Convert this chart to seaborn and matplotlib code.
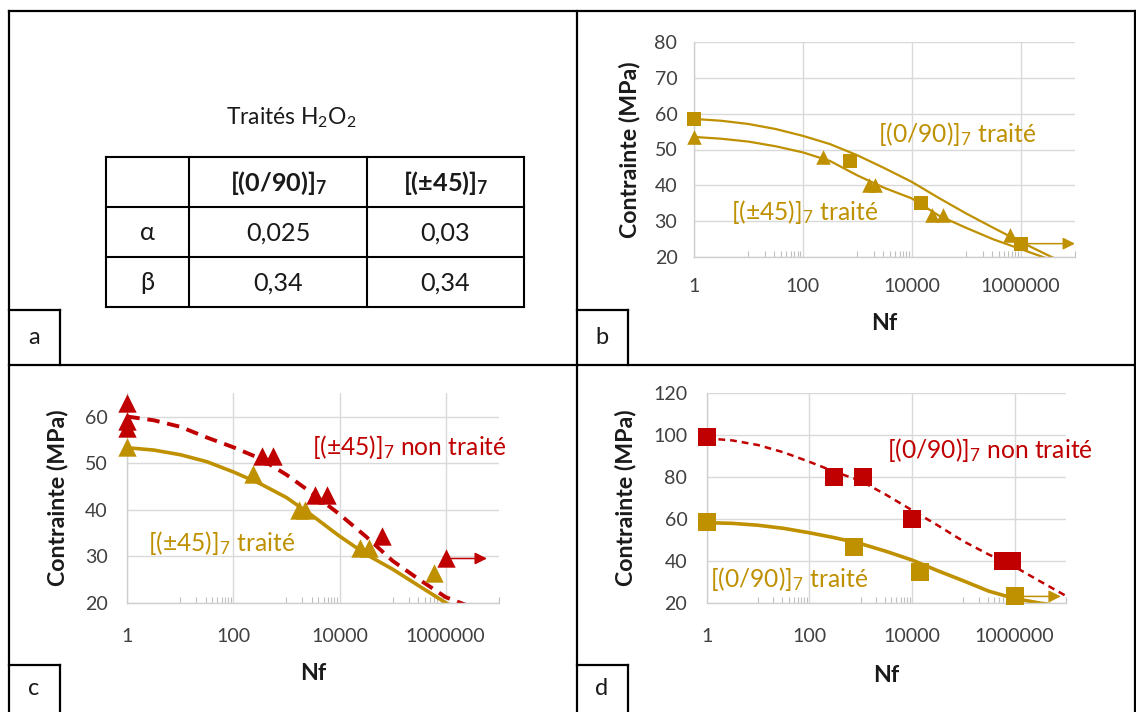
import matplotlib
matplotlib.use("Agg")
import matplotlib.pyplot as plt
from matplotlib.ticker import FixedLocator, NullFormatter
import seaborn as sns

# ---------------- data ----------------
GOLD = "#BF9000"
RED = "#C00000"

# panel a : fit parameters (treated H2O2)
layups = [r"[(0/90)]$_\mathbf{7}$", r"[(±45)]$_\mathbf{7}$"]
param_names = ["α", "β"]
alpha_vals = ["0,025", "0,03"]
beta_vals = ["0,34", "0,34"]

# fitted curves are read at half decades of Nf
n_curve = [1, 3.16, 10, 31.6, 100, 316, 1000, 3160, 1e4, 3.16e4, 1e5, 3.16e5, 1e6, 3.16e6, 1e7]

# panel b : treated [(0/90)]7 (squares) and [(±45)]7 (triangles)
b_sq_n = [1, 740, 14800, 1.0e6]
b_sq_s = [58.5, 46.9, 35.0, 23.6]
b_tri_n = [1, 238, 1650, 2100, 23300, 37100, 640000]
b_tri_s = [53.5, 48.0, 40.0, 40.0, 31.8, 31.8, 26.2]
b_fit090_s = [58.5, 58.0, 57.1, 55.7, 53.8, 51.5, 48.4, 44.8, 41.0, 36.5, 32.2, 28.2, 24.3, 20.6, 17.0]
b_fit45_s = [53.5, 53.0, 52.2, 50.9, 49.2, 46.8, 42.8, 39.3, 36.4, 31.6, 28.2, 25.0, 22.3, 19.6, 17.0]
b_runout = [1.0e6, 1.0e7, 23.8]

# panel c : [(±45)]7 treated vs untreated
c_red_n = [1, 1, 1, 340, 550, 3440, 5730, 62300, 1.0e6]
c_red_s = [63.0, 59.0, 57.5, 51.6, 51.6, 43.1, 43.1, 34.3, 29.5]
c_gold_n = [1, 237, 1700, 2200, 24300, 36300, 603000]
c_gold_s = [53.5, 47.7, 40.0, 40.0, 31.7, 31.7, 26.3]
c_fit_red_s = [60.0, 59.2, 57.8, 55.5, 53.4, 51.0, 47.5, 43.4, 39.0, 34.2, 29.0, 25.0, 21.2, 19.0, 17.0]
c_fit_gold_s = [53.3, 52.8, 51.8, 50.3, 48.1, 45.6, 42.6, 38.6, 34.3, 30.4, 27.2, 23.6, 20.0, 17.0, 15.0]
c_runout = [1.0e6, 6.0e6, 29.5]

# panel d : [(0/90)]7 treated vs untreated
d_red_n = [1, 300, 1100, 1.0e4, 6.0e5, 9.0e5]
d_red_s = [99.0, 80.0, 80.0, 60.0, 40.0, 40.0]
d_gold_n = [1, 755, 14400, 1.0e6]
d_gold_s = [58.5, 46.7, 34.8, 23.1]
d_fit_red_s = [98.5, 97.5, 95.3, 91.8, 87.3, 82.5, 78.2, 71.5, 64.2, 57.0, 49.4, 43.0, 37.2, 30.2, 23.3]
d_fit_gold_s = [58.2, 57.9, 57.0, 55.5, 53.4, 51.0, 48.2, 44.5, 40.4, 35.3, 30.5, 25.5, 22.0, 19.8, 18.0]
d_runout = [1.0e6, 8.0e6, 23.0]

# ---------------- style ----------------
sns.set_theme(style="white")
plt.rcParams["font.family"] = ["Lato", "DejaVu Sans"]
plt.rcParams["mathtext.fontset"] = "custom"
plt.rcParams["mathtext.rm"] = "Lato"
plt.rcParams["mathtext.it"] = "Lato:italic"
plt.rcParams["mathtext.bf"] = "Lato:bold"

W, H = 1136, 712
fig = plt.figure(figsize=(W / 100, H / 100), dpi=100)
fig.patch.set_facecolor("white")
renderer = fig.canvas.get_renderer()


def fit_size(s, target_px, **kw):
    # font size giving the text the width measured on the reference
    t = fig.text(0, 0, s, fontsize=20, **kw)
    w = t.get_window_extent(renderer).width
    t.remove()
    return 20 * target_px / w


sub7 = r"$_\mathregular{7}$"
TICK_FS = fit_size("1000000", 80)
NOTE_FS = fit_size("[(0/90)]" + sub7 + " traité", 158)
LAB_FS = fit_size("Contrainte (MPa)", 177, fontweight="bold")
TAB_FS = fit_size(r"[(0/90)]$_\mathbf{7}$", 97, fontweight="bold")
TITLE_FS = fit_size(r"Traités H$_\mathregular{2}$O$_\mathregular{2}$", 130)

# background axes in pixel coordinates for frames and table
bg = fig.add_axes([0, 0, 1, 1], zorder=-5)
bg.set_xlim(0, W)
bg.set_ylim(H, 0)
bg.axis("off")


def hline(y, x0, x1, lw=1.6):
    bg.plot([x0, x1], [y, y], color="black", lw=lw, solid_capstyle="projecting")


def vline(x, y0, y1, lw=1.6):
    bg.plot([x, x], [y0, y1], color="black", lw=lw, solid_capstyle="projecting")


# outer frame and quadrants
hline(11, 8.5, 1134.5)
hline(364.5, 8.5, 1134.5)
vline(8.5, 11, 712)
vline(576.5, 11, 712)
vline(1134.5, 11, 712)

# panel letters
for x0, y0, lab in [(8.5, 310, "a"), (576.5, 310, "b"), (8.5, 665, "c"), (576.5, 665, "d")]:
    y1 = 364.5 if y0 < 400 else 712
    hline(y0, x0, x0 + 51)
    vline(x0 + 51, y0, y1)
    bg.text(x0 + 25.5, (y0 + y1) / 2, lab, ha="center", va="center", fontsize=17, color="#1a1a1a")

# panel a : table
bg.text(291, 118, r"Traités H$_\mathregular{2}$O$_\mathregular{2}$", ha="center", va="center",
        fontsize=TITLE_FS, color="#1a1a1a")
tx = [106, 189.3, 367, 524]
ty = [156.7, 206.7, 257.3, 306.7]
for y in ty:
    hline(y, tx[0], tx[-1], lw=1.5)
for x in tx:
    vline(x, ty[0], ty[-1], lw=1.5)
rows = [[""] + layups,
        [param_names[0]] + alpha_vals,
        [param_names[1]] + beta_vals]
for i, row in enumerate(rows):
    for j, txt in enumerate(row):
        bg.text((tx[j] + tx[j + 1]) / 2, (ty[i] + ty[i + 1]) / 2 + 1, txt, ha="center", va="center",
                fontsize=TAB_FS, color="#1a1a1a", fontweight="bold" if i == 0 else "normal")

minor = [k * 10 ** e for e in (1, 3, 5) for k in range(1, 10)] + [1e7]


def style_axis(ax, ylim, yticks, xpad, ypad):
    ax.set_facecolor("none")
    ax.set_xscale("log")
    ax.set_xlim(1, 1e7)
    ax.set_ylim(*ylim)
    ax.set_yticks(yticks)
    ax.set_xticks([1, 100, 1e4, 1e6])
    ax.set_xticklabels(["1", "100", "10000", "1000000"])
    ax.xaxis.set_minor_locator(FixedLocator(minor))
    ax.xaxis.set_minor_formatter(NullFormatter())
    ax.grid(True, which="major", color="#D9D9D9", lw=1.0)
    ax.grid(False, which="minor")
    ax.tick_params(axis="both", which="major", length=0, labelsize=TICK_FS, labelcolor="#404040")
    ax.tick_params(axis="x", which="major", pad=xpad)
    ax.tick_params(axis="y", which="major", pad=ypad)
    ax.tick_params(axis="x", which="minor", bottom=True, direction="in", length=4.5,
                   width=0.8, color="#BFBFBF")
    for s in ["top", "right"]:
        ax.spines[s].set_visible(False)
    for s in ["left", "bottom"]:
        ax.spines[s].set_color("#CFCFCF")
        ax.spines[s].set_linewidth(1.0)
    ax.set_xlabel("")
    ax.set_ylabel("")


def px_axes(x0, y0, x1, y1):
    return fig.add_axes([x0 / W, 1 - y1 / H, (x1 - x0) / W, (y1 - y0) / H])


def labels(ax_x0, ax_x1, ylab_x, ylab_y, nf_y):
    fig.text(ylab_x / W, 1 - ylab_y / H, "Contrainte (MPa)", rotation=90, ha="center", va="center",
             fontsize=LAB_FS, fontweight="bold", color="#1a1a1a")
    fig.text((ax_x0 + ax_x1) / 2 / W, 1 - nf_y / H, "Nf", ha="center", va="center",
             fontsize=LAB_FS, fontweight="bold", color="#1a1a1a")


def runout(ax, r, color, lw, ms):
    ax.annotate("", xy=(r[1], r[2]), xytext=(r[0], r[2]),
                arrowprops=dict(arrowstyle="-|>", color=color, lw=lw, mutation_scale=ms,
                                shrinkA=0, shrinkB=0), annotation_clip=False)


def note(x, y, s, color):
    fig.text(x / W, 1 - y / H, s, ha="center", va="center", fontsize=NOTE_FS, color=color)


# ---------------- panel b ----------------
axb = px_axes(694, 41.7, 1075, 257.3)
sns.lineplot(x=n_curve, y=b_fit090_s, ax=axb, color=GOLD, lw=1.6, zorder=2)
sns.lineplot(x=n_curve, y=b_fit45_s, ax=axb, color=GOLD, lw=1.6, zorder=2)
runout(axb, b_runout, GOLD, 1.1, 18)
sns.scatterplot(x=b_sq_n, y=b_sq_s, ax=axb, marker="s", s=105, color=GOLD, linewidth=0,
                clip_on=False, zorder=3)
sns.scatterplot(x=b_tri_n, y=b_tri_s, ax=axb, marker="^", s=110, color=GOLD, linewidth=0,
                clip_on=False, zorder=3)
style_axis(axb, (20, 80), range(20, 81, 10), 15, 12)
note(957.5, 134.3, "[(0/90)]" + sub7 + " traité", GOLD)
note(804.5, 212.5, "[(±45)]" + sub7 + " traité", GOLD)
labels(694, 1075, 630, 149.5, 323.3)

# ---------------- panel c ----------------
axc = px_axes(127.3, 393.3, 498.7, 602.7)
sns.lineplot(x=n_curve, y=c_fit_gold_s, ax=axc, color=GOLD, lw=2.6, zorder=2)
sns.lineplot(x=n_curve, y=c_fit_red_s, ax=axc, color=RED, lw=2.8, linestyle=(0, (3.2, 2.0)),
             zorder=2)
runout(axc, c_runout, RED, 1.1, 18)
sns.scatterplot(x=c_gold_n, y=c_gold_s, ax=axc, marker="^", s=175, color=GOLD, linewidth=0,
                clip_on=False, zorder=3)
sns.scatterplot(x=c_red_n, y=c_red_s, ax=axc, marker="^", s=175, color=RED, linewidth=0,
                clip_on=False, zorder=4)
style_axis(axc, (20, 65), range(20, 61, 10), 18, 14)
note(409, 446.7, "[(±45)]" + sub7 + " non traité", RED)
note(221.5, 543.3, "[(±45)]" + sub7 + " traité", GOLD)
labels(127.3, 498.7, 58, 498, 673.3)

# ---------------- panel d ----------------
axd = px_axes(706.7, 393.3, 1065.8, 602.7)
sns.lineplot(x=n_curve, y=d_fit_gold_s, ax=axd, color=GOLD, lw=2.6, zorder=2)
sns.lineplot(x=n_curve, y=d_fit_red_s, ax=axd, color=RED, lw=1.8, linestyle=(0, (2.7, 2.0)),
             zorder=2)
runout(axd, d_runout, GOLD, 1.1, 18)
sns.scatterplot(x=d_red_n, y=d_red_s, ax=axd, marker="s", s=170, color=RED, linewidth=0,
                clip_on=False, zorder=3)
sns.scatterplot(x=d_gold_n, y=d_gold_s, ax=axd, marker="s", s=170, color=GOLD, linewidth=0,
                clip_on=False, zorder=3)
style_axis(axd, (20, 120), range(20, 121, 20), 18, 14)
note(989.5, 450, "[(0/90)]" + sub7 + " non traité", RED)
note(789.4, 579.3, "[(0/90)]" + sub7 + " traité", GOLD)
labels(706.7, 1065.8, 626, 498, 675)

fig.savefig("out.png", dpi=100)
